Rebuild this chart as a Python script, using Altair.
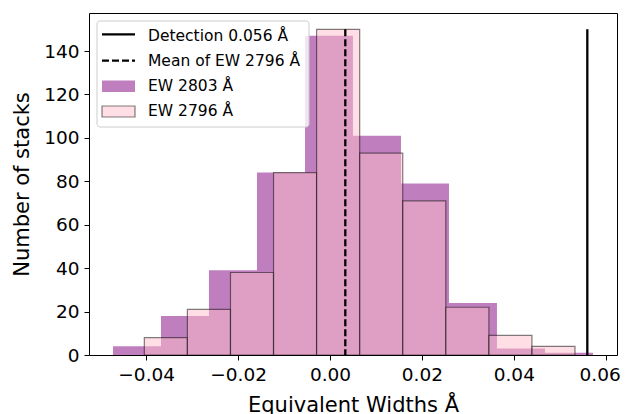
import altair as alt
import pandas as pd

# ---- data ----
ew2803_edges = [-0.04723, -0.03678, -0.02634, -0.01589, -0.00544, 0.00500,
                0.01545, 0.02590, 0.03634, 0.04679, 0.05724]
ew2803_counts = [4, 18, 39, 84, 147, 101, 79, 24, 3, 1]

ew2796_edges = [-0.04041, -0.03104, -0.02166, -0.01229, -0.00292, 0.00646,
                0.01583, 0.02520, 0.03458, 0.04395, 0.05332]
ew2796_counts = [8, 21, 38, 84, 150, 93, 71, 22, 9, 4]

detection_value = 0.056
mean_2796_value = 0.00333
line_top = 150

x_ticks = [-0.04, -0.02, 0.0, 0.02, 0.04, 0.06]
y_ticks = [0, 20, 40, 60, 80, 100, 120, 140]
x_domain = [-0.05245, 0.06246]
y_domain = [0, 157.5]

legend_labels = ["Detection 0.056 Å", "Mean of EW 2796 Å", "EW 2803 Å", "EW 2796 Å"]

FONT = "DejaVu Sans"

df2803 = pd.DataFrame({"x0": ew2803_edges[:-1], "x1": ew2803_edges[1:],
                       "count": ew2803_counts, "base": 0})
df2796 = pd.DataFrame({"x0": ew2796_edges[:-1], "x1": ew2796_edges[1:],
                       "count": ew2796_counts, "base": 0})
df_det = pd.DataFrame({"x0": [detection_value], "count": [line_top], "base": [0]})
df_mean = pd.DataFrame({"x0": [mean_2796_value], "count": [line_top], "base": [0]})

xenc = alt.X("x0:Q",
             scale=alt.Scale(domain=x_domain, nice=False, zero=False),
             axis=alt.Axis(values=x_ticks, format=".2f", title="Equivalent Widths Å",
                           titleY=56, titleBaseline="alphabetic",
                           labelOffset=alt.condition("datum.value > 0.05",
                                                     alt.value(-6), alt.value(0))))
yenc = alt.Y("count:Q",
             scale=alt.Scale(domain=y_domain, nice=False, zero=True),
             axis=alt.Axis(values=y_ticks, format="d", title="Number of stacks",
                           titleX=-61, titleBaseline="alphabetic"))

bars2803 = alt.Chart(df2803).mark_rect(color="purple", opacity=0.5).encode(
    x=xenc, x2="x1:Q", y=yenc, y2="base:Q")

bars2796 = alt.Chart(df2796).mark_rect(
    fill="pink", fillOpacity=0.5, stroke="black", strokeOpacity=0.5, strokeWidth=1.2
).encode(x=xenc, x2="x1:Q", y=yenc, y2="base:Q")

det_line = alt.Chart(df_det).mark_rule(color="black", strokeWidth=2.3).encode(
    x=xenc, y=yenc, y2="base:Q")
mean_line = alt.Chart(df_mean).mark_rule(color="black", strokeWidth=2.3,
                                         strokeDash=[7, 3]).encode(
    x=xenc, y=yenc, y2="base:Q")

one = pd.DataFrame({"k": [0]})

leg_box = alt.Chart(one).mark_rect(
    fill="white", fillOpacity=0.8, stroke="#cccccc", strokeWidth=1, cornerRadius=3
).encode(x=alt.value(8), x2=alt.value(220), y=alt.value(8), y2=alt.value(114))

leg_det = alt.Chart(one).mark_rule(color="black", strokeWidth=2.3).encode(
    x=alt.value(13), x2=alt.value(46), y=alt.value(21.3))
leg_mean = alt.Chart(one).mark_rule(color="black", strokeWidth=2.3, strokeDash=[7, 3]).encode(
    x=alt.value(13), x2=alt.value(46), y=alt.value(47.7))
leg_p1 = alt.Chart(one).mark_rect(color="purple", opacity=0.5).encode(
    x=alt.value(13), x2=alt.value(46), y=alt.value(67.5), y2=alt.value(79))
leg_p2 = alt.Chart(one).mark_rect(
    fill="pink", fillOpacity=0.5, stroke="black", strokeOpacity=0.5, strokeWidth=1.2
).encode(x=alt.value(13), x2=alt.value(46), y=alt.value(93), y2=alt.value(104))

leg_texts = []
for lab, yb in zip(legend_labels, [27.7, 52.7, 77.7, 102.7]):
    leg_texts.append(
        alt.Chart(pd.DataFrame({"label": [lab]})).mark_text(
            align="left", baseline="alphabetic", font=FONT, fontSize=15.5, color="black"
        ).encode(x=alt.value(59), y=alt.value(yb), text="label:N")
    )

chart = alt.layer(
    bars2803, bars2796, det_line, mean_line,
    leg_box, leg_det, leg_mean, leg_p1, leg_p2, *leg_texts
).properties(
    width=528, height=342,
    autosize=alt.AutoSizeParams(type="none"),
    padding={"left": 81, "top": 5, "right": 5, "bottom": 60},
).configure_view(
    stroke="black", strokeWidth=1
).configure_axis(
    labelFont=FONT, titleFont=FONT, labelFontSize=18.5, titleFontSize=21,
    labelColor="black", titleColor="black", titleFontWeight="normal",
    tickColor="black", tickSize=5, tickWidth=1, labelPadding=5,
    domain=False, grid=False
)

chart.save("out.html", embed_options={"renderer": "svg", "actions": False})
